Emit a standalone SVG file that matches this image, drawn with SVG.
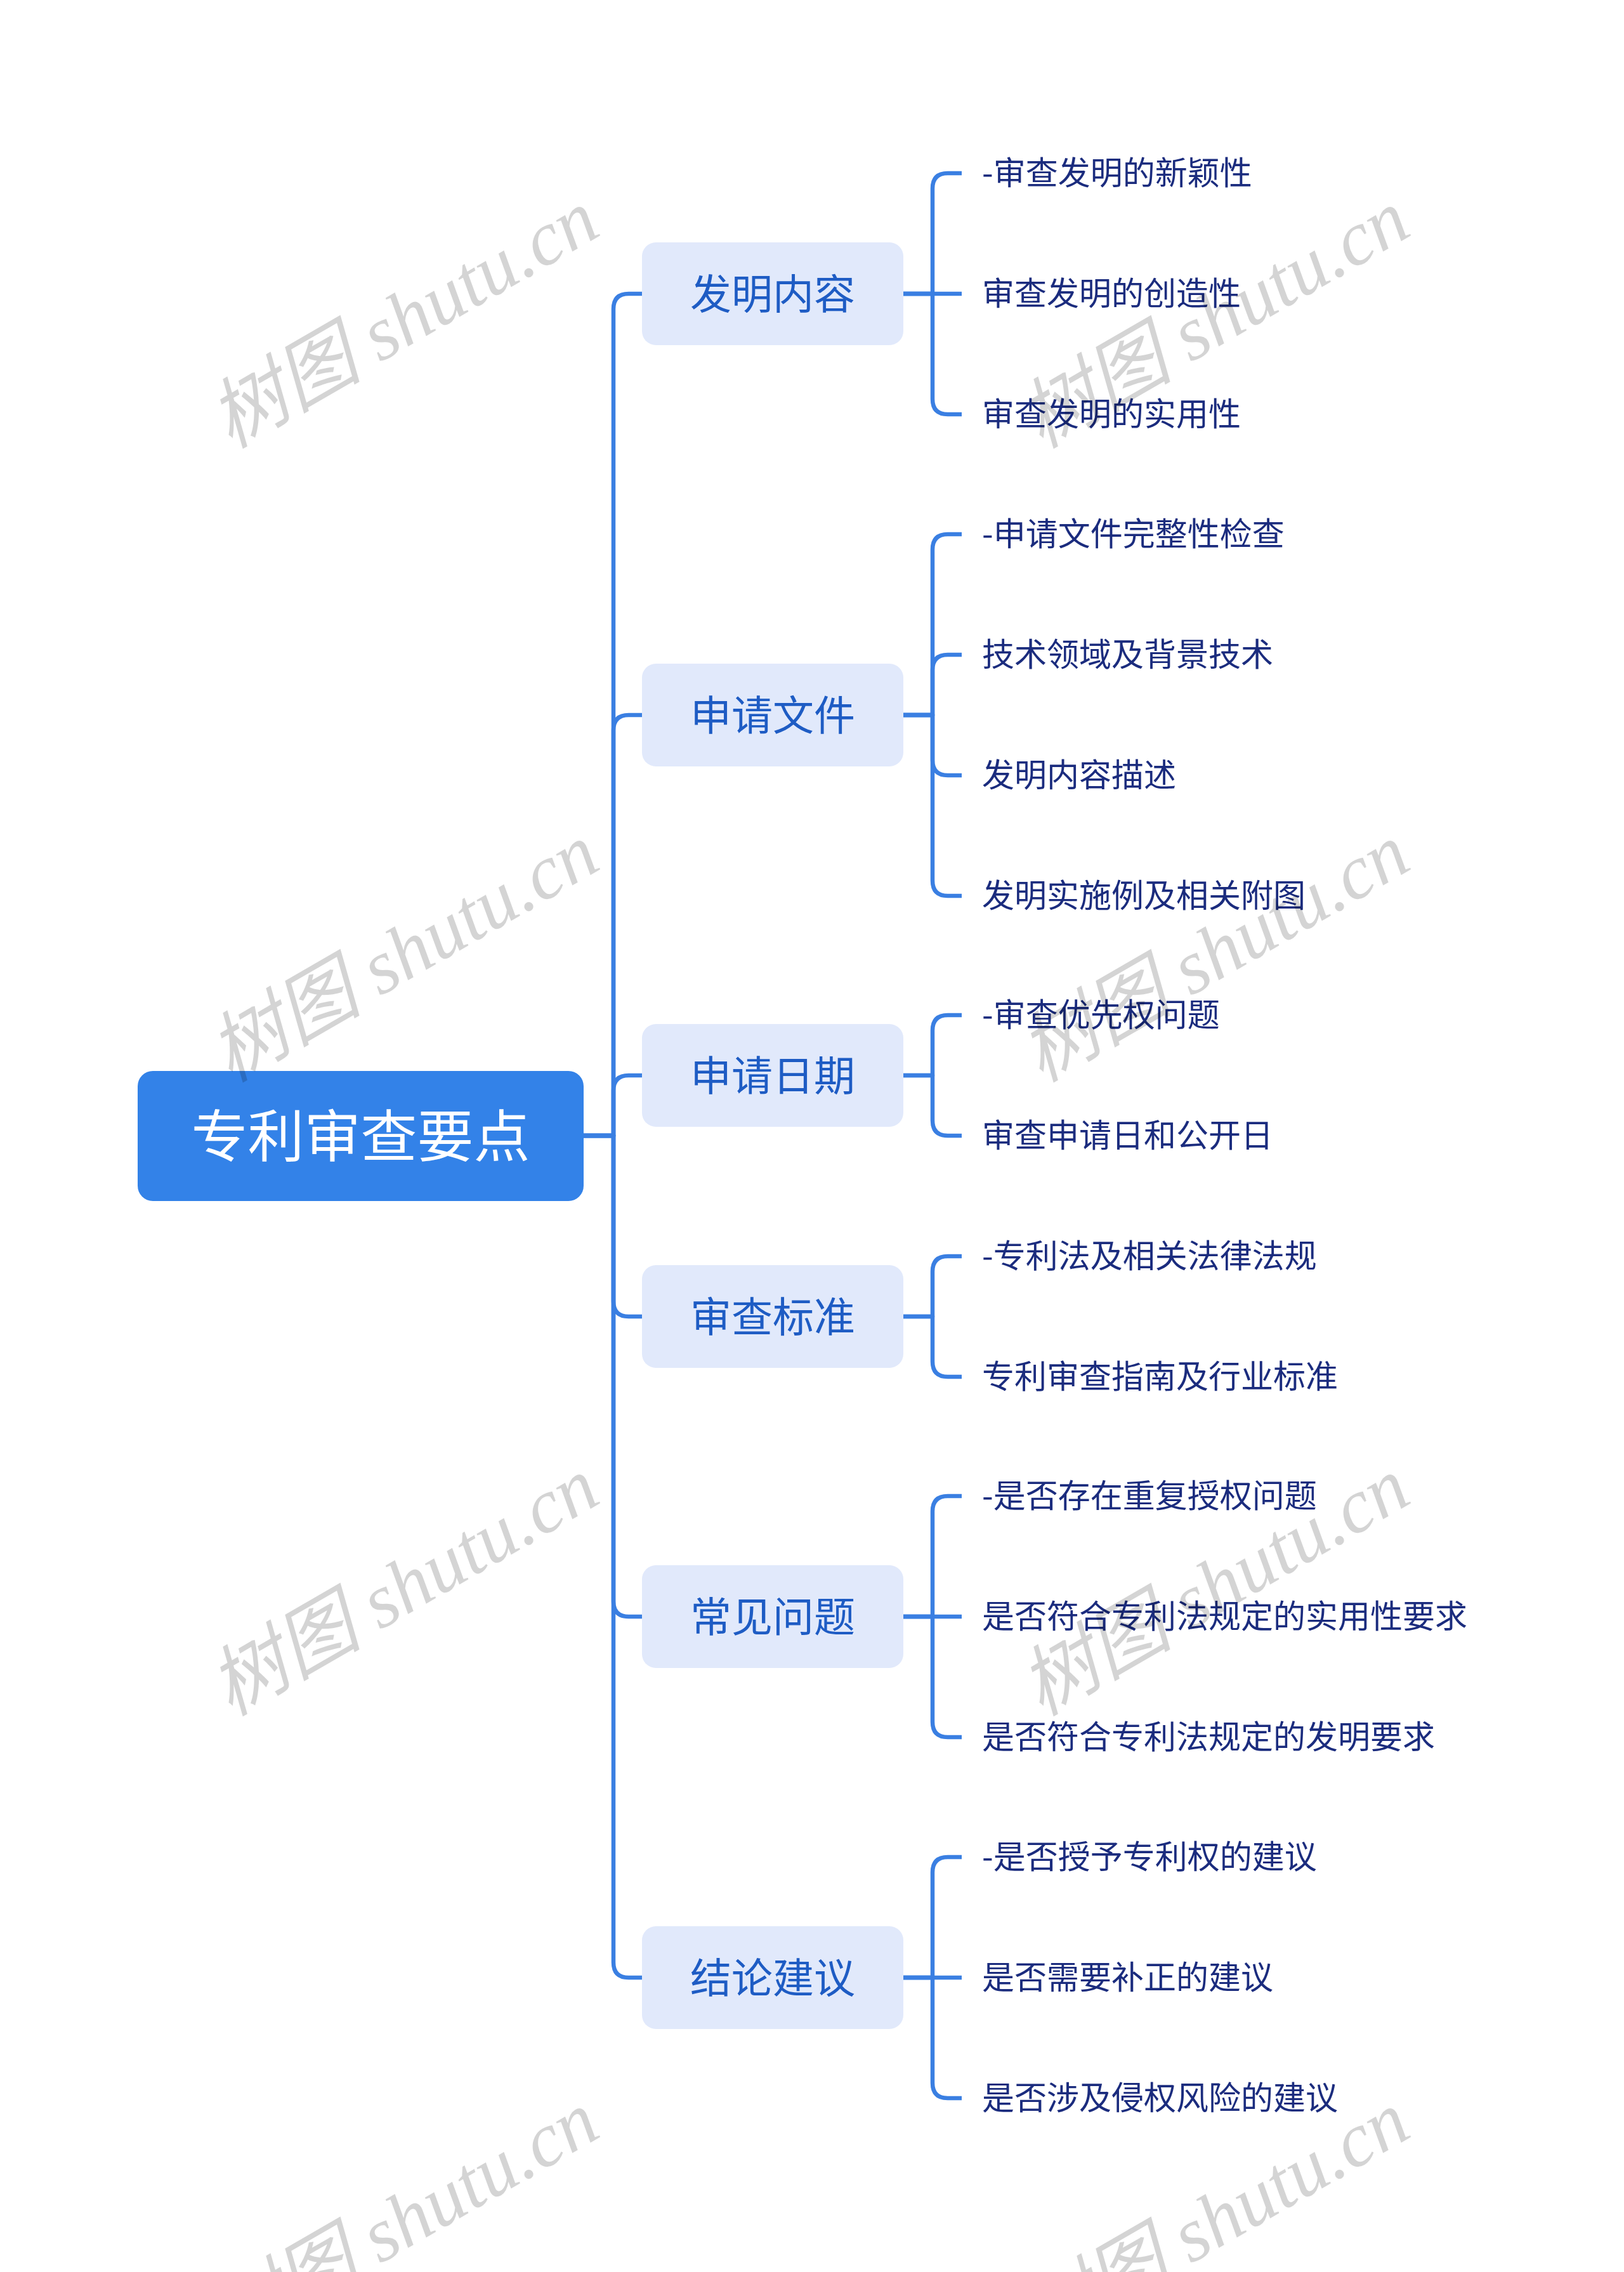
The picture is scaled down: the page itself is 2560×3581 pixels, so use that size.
<svg xmlns="http://www.w3.org/2000/svg" xmlns:xlink="http://www.w3.org/1999/xlink" width="2560" height="3581" viewBox="0 0 2560 3581">
<style>
.root-box{fill:#3382e8;}
.root-txt{font-family:"Noto Sans CJK SC","Noto Sans",sans-serif;font-size:89px;fill:#ffffff;text-anchor:middle;}
.l1-box{fill:#e1e9fb;}
.l1-txt{font-family:"Noto Sans CJK SC","Noto Sans",sans-serif;font-size:65px;fill:#1e5cc4;text-anchor:middle;}
.l2-txt{font-family:"Noto Sans CJK SC","Noto Sans",sans-serif;font-size:51px;fill:#1b2c7e;}
.conn{fill:none;stroke:#3a7fe2;stroke-width:6.5;stroke-linejoin:round;stroke-linecap:butt;}
.wm{font-family:"Liberation Serif","Noto Sans CJK SC",serif;font-style:italic;font-size:121px;fill:#000000;fill-opacity:0.17;}
</style>
<defs>
<text id="wmt" class="wm" x="0" y="0">树图 shutu.cn</text>
</defs>
<rect x="0" y="0" width="2560" height="3581" fill="#ffffff"/>

<g id="connectors">
  <path class="conn" d="M920,1790 H967 V487 Q967,463 991,463 H1012"/>
  <path class="conn" d="M920,1790 H967 V1151 Q967,1127 991,1127 H1012"/>
  <path class="conn" d="M920,1790 H967 V1719 Q967,1695 991,1695 H1012"/>
  <path class="conn" d="M920,1790 H967 V2051 Q967,2075 991,2075 H1012"/>
  <path class="conn" d="M920,1790 H967 V2524 Q967,2548 991,2548 H1012"/>
  <path class="conn" d="M920,1790 H967 V3093 Q967,3117 991,3117 H1012"/>
  <path class="conn" d="M1424,463 H1470 V297 Q1470,273 1494,273 H1516"/>
  <path class="conn" d="M1424,463 H1516"/>
  <path class="conn" d="M1424,463 H1470 V629 Q1470,653 1494,653 H1516"/>
  <path class="conn" d="M1424,1127 H1470 V866 Q1470,842 1494,842 H1516"/>
  <path class="conn" d="M1424,1127 H1470 V1056 Q1470,1032 1494,1032 H1516"/>
  <path class="conn" d="M1424,1127 H1470 V1198 Q1470,1222 1494,1222 H1516"/>
  <path class="conn" d="M1424,1127 H1470 V1388 Q1470,1412 1494,1412 H1516"/>
  <path class="conn" d="M1424,1695 H1470 V1624 Q1470,1600 1494,1600 H1516"/>
  <path class="conn" d="M1424,1695 H1470 V1766 Q1470,1790 1494,1790 H1516"/>
  <path class="conn" d="M1424,2075 H1470 V2004 Q1470,1980 1494,1980 H1516"/>
  <path class="conn" d="M1424,2075 H1470 V2146 Q1470,2170 1494,2170 H1516"/>
  <path class="conn" d="M1424,2548 H1470 V2382 Q1470,2358 1494,2358 H1516"/>
  <path class="conn" d="M1424,2548 H1516"/>
  <path class="conn" d="M1424,2548 H1470 V2714 Q1470,2738 1494,2738 H1516"/>
  <path class="conn" d="M1424,3117 H1470 V2951 Q1470,2927 1494,2927 H1516"/>
  <path class="conn" d="M1424,3117 H1516"/>
  <path class="conn" d="M1424,3117 H1470 V3283 Q1470,3307 1494,3307 H1516"/>
</g>

<g id="root">
  <rect class="root-box" x="217" y="1688" width="703" height="205" rx="24" ry="24"/>
  <text class="root-txt" x="568.5" y="1823">专利审查要点</text>
</g>

<g id="n1">
  <rect class="l1-box" x="1012" y="382" width="412" height="162" rx="22" ry="22"/>
  <text class="l1-txt" x="1218" y="487">发明内容</text>
</g>
<g id="n2">
  <rect class="l1-box" x="1012" y="1046" width="412" height="162" rx="22" ry="22"/>
  <text class="l1-txt" x="1218" y="1151">申请文件</text>
</g>
<g id="n3">
  <rect class="l1-box" x="1012" y="1614" width="412" height="162" rx="22" ry="22"/>
  <text class="l1-txt" x="1218" y="1719">申请日期</text>
</g>
<g id="n4">
  <rect class="l1-box" x="1012" y="1994" width="412" height="162" rx="22" ry="22"/>
  <text class="l1-txt" x="1218" y="2099">审查标准</text>
</g>
<g id="n5">
  <rect class="l1-box" x="1012" y="2467" width="412" height="162" rx="22" ry="22"/>
  <text class="l1-txt" x="1218" y="2572">常见问题</text>
</g>
<g id="n6">
  <rect class="l1-box" x="1012" y="3036" width="412" height="162" rx="22" ry="22"/>
  <text class="l1-txt" x="1218" y="3141">结论建议</text>
</g>

<g id="n1c1"><text class="l2-txt" x="1548" y="291">-审查发明的新颖性</text></g>
<g id="n1c2"><text class="l2-txt" x="1548" y="481">审查发明的创造性</text></g>
<g id="n1c3"><text class="l2-txt" x="1548" y="671">审查发明的实用性</text></g>

<g id="n2c1"><text class="l2-txt" x="1548" y="860">-申请文件完整性检查</text></g>
<g id="n2c2"><text class="l2-txt" x="1548" y="1050">技术领域及背景技术</text></g>
<g id="n2c3"><text class="l2-txt" x="1548" y="1240">发明内容描述</text></g>
<g id="n2c4"><text class="l2-txt" x="1548" y="1430">发明实施例及相关附图</text></g>

<g id="n3c1"><text class="l2-txt" x="1548" y="1618">-审查优先权问题</text></g>
<g id="n3c2"><text class="l2-txt" x="1548" y="1808">审查申请日和公开日</text></g>

<g id="n4c1"><text class="l2-txt" x="1548" y="1998">-专利法及相关法律法规</text></g>
<g id="n4c2"><text class="l2-txt" x="1548" y="2188">专利审查指南及行业标准</text></g>

<g id="n5c1"><text class="l2-txt" x="1548" y="2376">-是否存在重复授权问题</text></g>
<g id="n5c2"><text class="l2-txt" x="1548" y="2566">是否符合专利法规定的实用性要求</text></g>
<g id="n5c3"><text class="l2-txt" x="1548" y="2756">是否符合专利法规定的发明要求</text></g>

<g id="n6c1"><text class="l2-txt" x="1548" y="2945">-是否授予专利权的建议</text></g>
<g id="n6c2"><text class="l2-txt" x="1548" y="3135">是否需要补正的建议</text></g>
<g id="n6c3"><text class="l2-txt" x="1548" y="3325">是否涉及侵权风险的建议</text></g>

<g id="watermarks">
  <use xlink:href="#wmt" href="#wmt" transform="translate(363,708) rotate(-30)"/>
  <use xlink:href="#wmt" href="#wmt" transform="translate(1641,708) rotate(-30)"/>
  <use xlink:href="#wmt" href="#wmt" transform="translate(363,1707) rotate(-30)"/>
  <use xlink:href="#wmt" href="#wmt" transform="translate(1641,1707) rotate(-30)"/>
  <use xlink:href="#wmt" href="#wmt" transform="translate(363,2706) rotate(-30)"/>
  <use xlink:href="#wmt" href="#wmt" transform="translate(1641,2706) rotate(-30)"/>
  <use xlink:href="#wmt" href="#wmt" transform="translate(363,3705) rotate(-30)"/>
  <use xlink:href="#wmt" href="#wmt" transform="translate(1641,3705) rotate(-30)"/>
</g>
</svg>
